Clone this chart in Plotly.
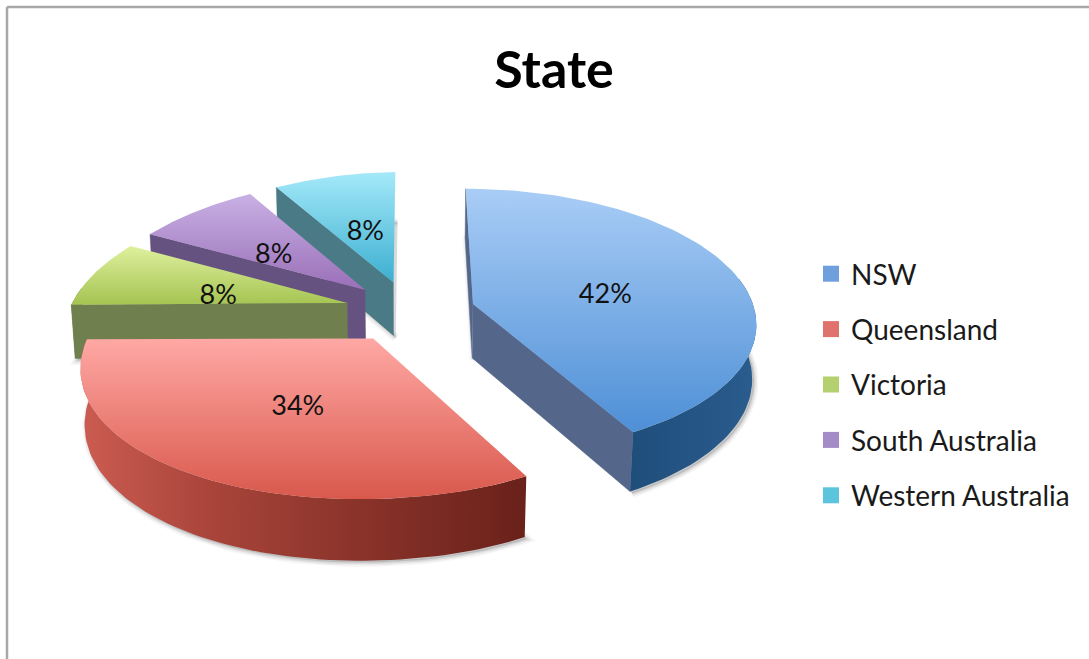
import numpy as np
import plotly.graph_objects as go

STATES = ["NSW", "Queensland", "Victoria", "South Australia", "Western Australia"]
SHARES = [42, 34, 8, 8, 8]

# Slice styling, one entry per state
TOP_COLOURS = [("#a9cdf6", "#4e8fd6"), ("#ffa8a4", "#d9584c"), ("#dff09e", "#a5c452"),
               ("#c8b0e4", "#9a6fb8"), ("#a4e9f9", "#3cafd0")]
RIM_COLOURS = [
    [[0, "#1f4e7b"], [1, "#2a5c8e"]],
    [[0, "#cc5c52"], [0.3, "#a8443a"], [0.6, "#8c342b"], [1, "#69211a"]],
    [[0, "#6f7f4e"], [1, "#6f7f4e"]],
    [[0, "#665280"], [1, "#665280"]],
    [[0, "#4a7a85"], [1, "#4a7a85"]],
]
WALL_COLOURS = ["#54678a", "#7a2a22", "#6f7f4e", "#665280", "#4a7a85"]
LEGEND_COLOURS = ["#6f9fdc", "#e0726e", "#b5d06e", "#a48cc8", "#5cc4dc"]
LABEL_RADIUS = [0.5, 0.45, 0.5, 0.52, 0.45]
LABEL_DROP = [8, 13, 10, 9, 2]

# Camera and pie geometry, in page pixels
CX, CY = 409.5, 311.5
SCALE_X, SCALE_Y = 282.0, 132.0
PERSPECTIVE = 0.13
THICKNESS = 55.0
DEPTH_SHRINK = 0.012
EXPLODE = 0.234
LEFT_SAG = 8.0
FONT = "Lato, Carlito, 'Open Sans', sans-serif"


def project(px, py, z=0.0):
    """Map a point on the pie plane (z=0 top face, z=1 bottom face) to the page."""
    k = 1.0 / (1.0 + PERSPECTIVE * py + DEPTH_SHRINK * z)
    sag = LEFT_SAG * np.maximum(0.0, -px) ** 1.5
    return CX + SCALE_X * px * k, CY + (-SCALE_Y * py + THICKNESS * z) * k + sag


def polygon(xs, ys, **style):
    return go.Scatter(x=list(xs), y=list(ys), mode="lines", fill="toself",
                      showlegend=False, hoverinfo="skip", **style)


fig = go.Figure()
total = sum(SHARES)
edges = np.radians(np.cumsum([0] + SHARES) / total * 360.0)

label_x, label_y, label_text = [], [], []
# Painter's order: the far wedges first, Queensland last so it overlaps its neighbours
for i in [4, 3, 2, 0, 1]:
    a0, a1 = edges[i], edges[i + 1]
    mid = (a0 + a1) / 2
    ox, oy = EXPLODE * np.sin(mid), EXPLODE * np.cos(mid)
    theta = np.linspace(a0, a1, 80)
    arc_x, arc_y = ox + np.sin(theta), oy + np.cos(theta)

    top_x, top_y = project(arc_x, arc_y, 0)
    bot_x, bot_y = project(arc_x, arc_y, 1)
    apex_tx, apex_ty = project(ox, oy, 0)
    apex_bx, apex_by = project(ox, oy, 1)

    # Soft drop shadow from the bottom face
    for width, alpha in [(9, 0.05), (6, 0.07), (3, 0.12)]:
        fig.add_trace(polygon(
            np.r_[apex_bx, bot_x] + 2, np.r_[apex_by, bot_y] + 2,
            line=dict(color=f"rgba(90,90,90,{alpha})", width=width),
            fillcolor=f"rgba(90,90,90,{alpha})"))

    # Cut faces turned towards the viewer; the sliver at 12 o'clock goes down first
    visible = []
    if np.sin(a0) <= 1e-9:
        visible.append(0)
    if np.sin(a1) > 1e-9:
        visible.append(-1)
    for e in visible:
        fig.add_trace(polygon(
            [apex_tx, top_x[e], bot_x[e], apex_bx],
            [apex_ty, top_y[e], bot_y[e], apex_by],
            line=dict(width=0.5, color=WALL_COLOURS[i]),
            fillcolor=WALL_COLOURS[i]))

    # Rim, only along the part of the arc that faces the viewer
    near = np.cos(theta) < 0.2
    if near.any():
        fig.add_trace(polygon(
            np.r_[top_x[near], bot_x[near][::-1]], np.r_[top_y[near], bot_y[near][::-1]],
            line=dict(width=0, color=WALL_COLOURS[i]),
            fillgradient=dict(type="horizontal", colorscale=RIM_COLOURS[i])))

    # Top face, lighter towards the far edge
    c_high, c_low = TOP_COLOURS[i]
    fig.add_trace(polygon(
        np.r_[apex_tx, top_x], np.r_[apex_ty, top_y],
        line=dict(width=0, color=c_low),
        fillgradient=dict(type="vertical", colorscale=[[0, c_low], [1, c_high]])))

    lx, ly = project(ox + LABEL_RADIUS[i] * np.sin(mid), oy + LABEL_RADIUS[i] * np.cos(mid))
    label_x.append(lx)
    label_y.append(ly + LABEL_DROP[i])
    label_text.append(f"{SHARES[i]}%")

fig.add_trace(go.Scatter(x=label_x, y=label_y, text=label_text, mode="text",
                         textposition="middle center", showlegend=False, hoverinfo="skip",
                         textfont=dict(family=FONT, size=27, color="#111111")))

# Legend entries
for name, colour in zip(STATES, LEGEND_COLOURS):
    fig.add_trace(go.Scatter(x=[None], y=[None], mode="markers", name=name, legendgroup=name,
                             marker=dict(symbol="square", size=16, color=colour)))

fig.update_layout(
    width=1089, height=659, margin=dict(l=0, r=0, t=0, b=0),
    paper_bgcolor="white", plot_bgcolor="white",
    xaxis=dict(range=[0, 1089], visible=False, fixedrange=True),
    yaxis=dict(range=[659, 0], visible=False, fixedrange=True),
    title=dict(text="<b>State</b>", x=554 / 1089, y=1 - 70 / 659, xanchor="center", yanchor="middle",
               font=dict(family=FONT, size=52, color="#000000")),
    legend=dict(x=811 / 1089, y=1 - 249 / 659, xanchor="left", yanchor="top",
                traceorder="grouped", tracegroupgap=16, itemwidth=30,
                font=dict(family=FONT, size=28, color="#1a1a1a"),
                bgcolor="rgba(0,0,0,0)"),
    shapes=[
        dict(type="line", xref="x", yref="y", x0=7, x1=1089, y0=7, y1=7,
             line=dict(color="#a8a8a8", width=2.5)),
        dict(type="line", xref="x", yref="y", x0=7, x1=7, y0=7, y1=659,
             line=dict(color="#a8a8a8", width=2.5)),
    ],
)

fig.write_html("out.html")
